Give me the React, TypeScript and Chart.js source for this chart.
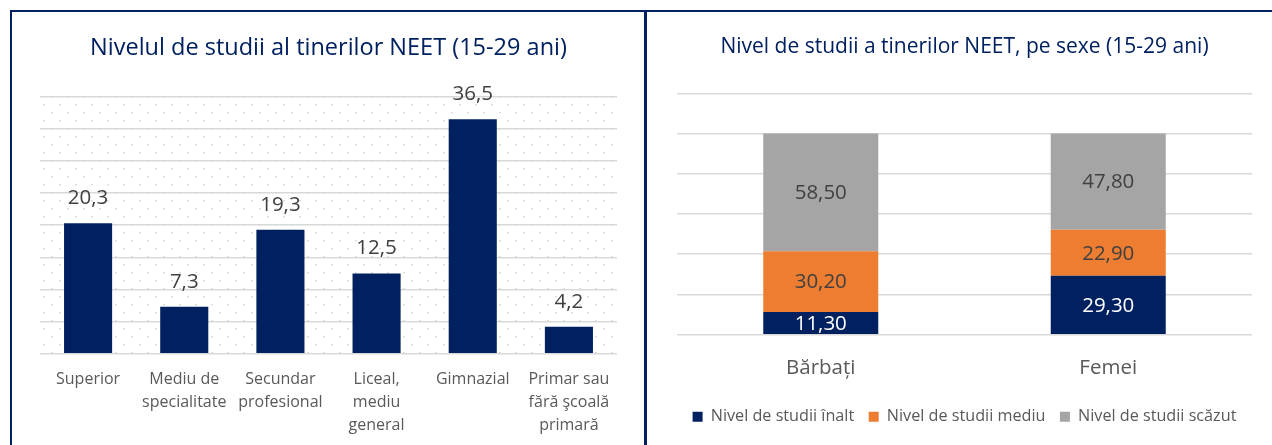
import React, { useEffect, useRef } from "react";
import { Chart, registerables } from "chart.js";

Chart.register(...registerables);

// ---- data ----
const levelCategories: string[][] = [
  ["Superior"],
  ["Mediu de", "specialitate"],
  ["Secundar", "profesional"],
  ["Liceal,", "mediu", "general"],
  ["Gimnazial"],
  ["Primar sau", "fără şcoală", "primară"],
];
const levelValues = [20.3, 7.3, 19.3, 12.5, 36.5, 4.2];

const sexCategories = ["Bărbați", "Femei"];
const highValues = [11.3, 29.3];
const mediumValues = [30.2, 22.9];
const lowValues = [58.5, 47.8];
const seriesNames = ["Nivel de studii înalt", "Nivel de studii mediu", "Nivel de studii scăzut"];

const leftTitle = "Nivelul de studii al tinerilor NEET (15-29 ani)";
const rightTitle = "Nivel de studii a tinerilor NEET, pe sexe (15-29 ani)";

// ---- styles ----
const NAVY = "#002060";
const ORANGE = "#ED7D31";
const GRAY = "#A5A5A5";
const TEXT = "#595959";
const LABEL = "#404040";
const GRID = "#d9d9d9";
const FONT = "'Open Sans', Lato, sans-serif";

const dotPattern = {
  id: "dotPattern",
  beforeDatasetsDraw(chart: any, _args: any, opts: any) {
    if (!opts || !opts.enabled) return;
    const { ctx, chartArea } = chart;
    const { left, right, top, bottom } = chartArea;
    ctx.save();
    ctx.fillStyle = opts.color;
    let k = 0;
    for (let y = top; y <= bottom + 0.5; y += 8, k++) {
      const start = left + 4 + (k % 2 === 0 ? 8 : 0);
      for (let x = start; x < right - 1; x += 16) {
        ctx.fillRect(x - 0.75, y - 0.75, 1.5, 1.5);
      }
    }
    ctx.restore();
  },
};

const valueLabels = {
  id: "valueLabels",
  afterDatasetsDraw(chart: any, _args: any, opts: any) {
    if (!opts || !opts.enabled) return;
    const { ctx } = chart;
    chart.data.datasets.forEach((ds: any, di: number) => {
      const meta = chart.getDatasetMeta(di);
      meta.data.forEach((bar: any, i: number) => {
        const v = ds.data[i] as number;
        const text = v.toFixed(opts.decimals).replace(".", ",");
        ctx.save();
        ctx.font = `${opts.size}px ${FONT}`;
        ctx.fillStyle = opts.colors[di];
        ctx.textAlign = "center";
        ctx.textBaseline = "middle";
        const y = opts.mode === "end" ? bar.y - opts.offset : (bar.y + bar.base) / 2 + 1;
        ctx.fillText(text, bar.x, y);
        ctx.restore();
      });
    });
  },
};

export default function App() {
  const leftRef = useRef<HTMLCanvasElement>(null);
  const rightRef = useRef<HTMLCanvasElement>(null);

  useEffect(() => {
    const left = new Chart(leftRef.current!, {
      type: "bar",
      data: {
        labels: levelCategories as any,
        datasets: [
          {
            data: levelValues,
            backgroundColor: NAVY,
            categoryPercentage: 1,
            barPercentage: 0.5,
          },
        ],
      },
      plugins: [dotPattern, valueLabels],
      options: {
        animation: false,
        responsive: false,
        layout: { padding: { left: 28, right: 27, top: 0, bottom: 0 } },
        plugins: {
          legend: { display: false },
          tooltip: { enabled: false },
          title: {
            display: true,
            text: leftTitle,
            color: NAVY,
            font: { family: FONT, size: 23.5, weight: "normal" as any, lineHeight: 1.2 },
            padding: { top: 22, bottom: 34.5 },
          },
          dotPattern: { enabled: true, color: "#d4d4d4" },
          valueLabels: { enabled: true, mode: "end", offset: 25, size: 20.5, decimals: 1, colors: [LABEL] },
        } as any,
        scales: {
          x: {
            grid: { display: false },
            border: { display: false },
            ticks: {
              color: TEXT,
              font: { family: FONT, size: 16, lineHeight: 1.44 },
              padding: 6.5,
              maxRotation: 0,
              autoSkip: false,
            },
            afterFit: (s: any) => {
              s.height = 91.3;
            },
          },
          y: {
            min: 0,
            max: 40,
            ticks: { stepSize: 5, display: false },
            grid: { color: GRID, lineWidth: 1.5, drawTicks: false },
            border: { display: false },
            afterFit: (s: any) => {
              s.width = 0;
            },
          },
        },
      },
    });

    const right = new Chart(rightRef.current!, {
      type: "bar",
      data: {
        labels: sexCategories,
        datasets: [
          { label: seriesNames[0], data: highValues, backgroundColor: NAVY, categoryPercentage: 0.4, barPercentage: 1 },
          { label: seriesNames[1], data: mediumValues, backgroundColor: ORANGE, categoryPercentage: 0.4, barPercentage: 1 },
          { label: seriesNames[2], data: lowValues, backgroundColor: GRAY, categoryPercentage: 0.4, barPercentage: 1 },
        ],
      },
      plugins: [valueLabels],
      options: {
        animation: false,
        responsive: false,
        layout: { padding: { left: 30, right: 20, top: 0, bottom: 10.2 } },
        plugins: {
          legend: {
            display: true,
            position: "bottom",
            labels: {
              color: TEXT,
              font: { family: FONT, size: 16.2 },
              boxWidth: 10,
              boxHeight: 10,
              padding: 14.5,
            },
          },
          tooltip: { enabled: false },
          title: {
            display: true,
            text: rightTitle,
            color: NAVY,
            font: { family: FONT, size: 21, weight: "normal" as any, lineHeight: 1.2 },
            padding: { top: 22.6, bottom: 33.5 },
          },
          valueLabels: { enabled: true, mode: "center", size: 20.5, decimals: 2, colors: ["#ffffff", LABEL, LABEL] },
        } as any,
        scales: {
          x: {
            stacked: true,
            grid: { display: false },
            border: { display: false },
            ticks: {
              color: TEXT,
              font: { family: FONT, size: 20.5 },
              padding: 13.6,
              maxRotation: 0,
            },
            afterFit: (s: any) => {
              s.height = 59.4;
            },
          },
          y: {
            stacked: true,
            min: 0,
            max: 120,
            ticks: { stepSize: 20, display: false },
            grid: { color: GRID, lineWidth: 1.5, drawTicks: false },
            border: { display: false },
            afterFit: (s: any) => {
              s.width = 0;
            },
          },
        },
      },
    });

    return () => {
      left.destroy();
      right.destroy();
    };
  }, []);

  return (
    <div
      style={{
        position: "absolute",
        left: 0,
        top: 0,
        width: 1272,
        height: 445,
        background: "#ffffff",
        overflow: "hidden",
      }}
    >
      <div style={{ position: "absolute", left: 10, top: 10, width: 1262, height: 2, background: NAVY }} />
      <div style={{ position: "absolute", left: 10, top: 10, width: 2, height: 435, background: NAVY }} />
      <div style={{ position: "absolute", left: 644, top: 10, width: 3, height: 435, background: NAVY }} />
      <canvas ref={leftRef} width={632} height={433} style={{ position: "absolute", left: 12, top: 12 }} />
      <canvas ref={rightRef} width={625} height={433} style={{ position: "absolute", left: 647, top: 12 }} />
    </div>
  );
}
